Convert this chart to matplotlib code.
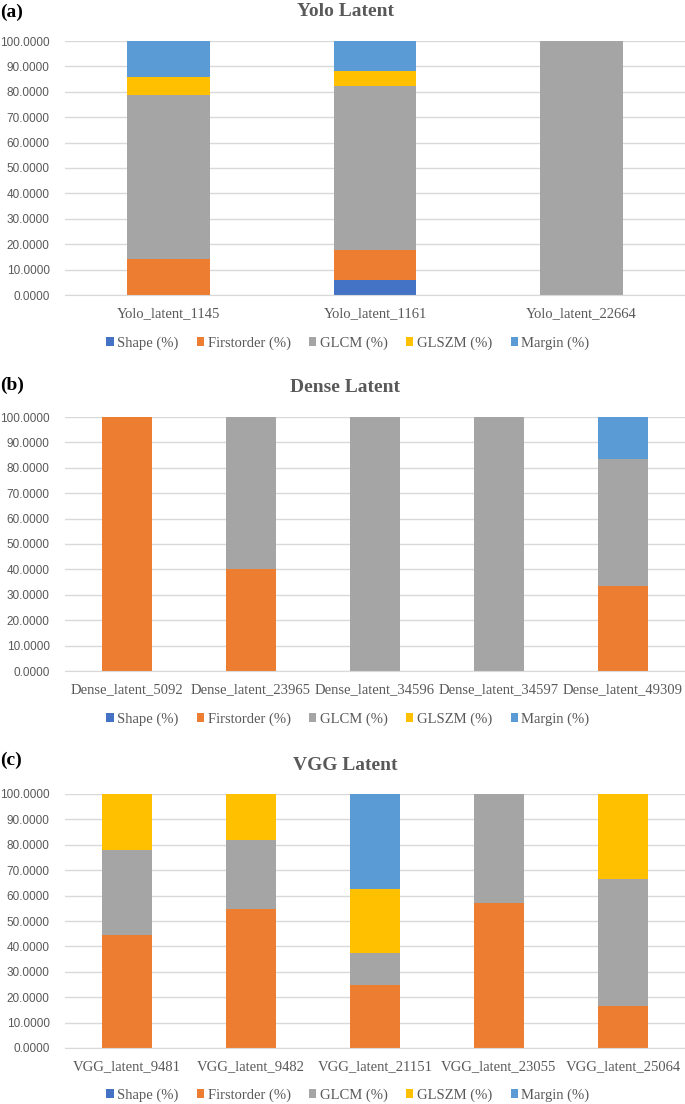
import numpy as np
import matplotlib
matplotlib.use("Agg")
import matplotlib.pyplot as plt
from matplotlib.ticker import FormatStrFormatter

# feature groups and colours (Excel office palette)
groups = ["Shape (%)", "Firstorder (%)", "GLCM (%)", "GLSZM (%)", "Margin (%)"]
colors = ["#4472C4", "#ED7D31", "#A5A5A5", "#FFC000", "#5B9BD5"]

# (a) Yolo latent
yolo_names = ["Yolo_latent_1145", "Yolo_latent_1161", "Yolo_latent_22664"]
yolo_shape = [0, 5.88, 0]
yolo_first = [14.29, 11.76, 0]
yolo_glcm = [64.29, 64.71, 100]
yolo_glszm = [7.14, 5.88, 0]
yolo_margin = [14.29, 11.76, 0]

# (b) Dense latent
dense_names = ["Dense_latent_5092", "Dense_latent_23965", "Dense_latent_34596",
               "Dense_latent_34597", "Dense_latent_49309"]
dense_shape = [0, 0, 0, 0, 0]
dense_first = [100, 40, 0, 0, 33.33]
dense_glcm = [0, 60, 100, 100, 50]
dense_glszm = [0, 0, 0, 0, 0]
dense_margin = [0, 0, 0, 0, 16.67]

# (c) VGG latent
vgg_names = ["VGG_latent_9481", "VGG_latent_9482", "VGG_latent_21151",
             "VGG_latent_23055", "VGG_latent_25064"]
vgg_shape = [0, 0, 0, 0, 0]
vgg_first = [44.44, 54.55, 25, 57.14, 16.67]
vgg_glcm = [33.33, 27.27, 12.5, 42.86, 50]
vgg_glszm = [22.22, 18.18, 25, 0, 33.33]
vgg_margin = [0, 0, 37.5, 0, 0]

panels = [
    ("(a)", "Yolo Latent", yolo_names, [yolo_shape, yolo_first, yolo_glcm, yolo_glszm, yolo_margin]),
    ("(b)", "Dense Latent", dense_names, [dense_shape, dense_first, dense_glcm, dense_glszm, dense_margin]),
    ("(c)", "VGG Latent", vgg_names, [vgg_shape, vgg_first, vgg_glcm, vgg_glszm, vgg_margin]),
]

W, H = 685, 1104
fig = plt.figure(figsize=(W / 100, H / 100), dpi=100)
serif = "Liberation Serif"
grey = "#595959"

# pixel layout: (100 line, 0 line, title y, tag y, legend y)
layout = [(41, 295, 12, 12, 343), (417, 671, 387, 385, 719), (794, 1048, 765, 760, 1095)]
left, right = 65, 685

for (tag, title, names, series), (ytop, ybot, ty, tgy, ly) in zip(panels, layout):
    ax = fig.add_axes([left / W, 1 - ybot / H, (right - left) / W, (ybot - ytop) / H])
    x = np.arange(len(names))
    bottom = np.zeros(len(names))
    handles = []
    for vals, col, lab in zip(series, colors, groups):
        vals = np.array(vals, dtype=float)
        b = ax.bar(x, vals, 0.4, bottom=bottom, color=col, label=lab, linewidth=0)
        handles.append(b)
        bottom += vals
    ax.set_xlim(-0.5, len(names) - 0.5)
    ax.set_ylim(0, 100)
    ax.set_yticks(np.arange(0, 101, 10))
    ax.yaxis.set_major_formatter(FormatStrFormatter("%.4f"))
    ax.set_xticks(x)
    ax.set_xticklabels(names, fontfamily=serif, fontsize=10.5, color=grey)
    ax.tick_params(axis="y", length=0, labelsize=8.5, labelcolor=grey, pad=11)
    ax.tick_params(axis="x", length=0, pad=9)
    for lbl in ax.get_yticklabels():
        lbl.set_fontfamily("Liberation Sans")
    ax.grid(axis="y", color="#D9D9D9", linewidth=1)
    ax.set_axisbelow(True)
    for s in ["top", "right", "left"]:
        ax.spines[s].set_visible(False)
    ax.spines["bottom"].set_color("#D9D9D9")

    fig.text(345 / W, 1 - ty / H, title, ha="center", va="center",
             fontfamily=serif, fontweight="bold", fontsize=14, color=grey)
    fig.text(0.0, 1 - tgy / H, tag, ha="left", va="center",
             fontfamily=serif, fontweight="bold", fontsize=14, color="black")
    fig.legend(handles, groups, loc="center", bbox_to_anchor=(348 / W, 1 - ly / H),
               ncol=5, frameon=False, handlelength=0.5, handleheight=0.5,
               handletextpad=0.25, columnspacing=1.25, borderpad=0,
               prop={"family": serif, "size": 10.5}, labelcolor=grey)

fig.savefig("out.png", dpi=100)
